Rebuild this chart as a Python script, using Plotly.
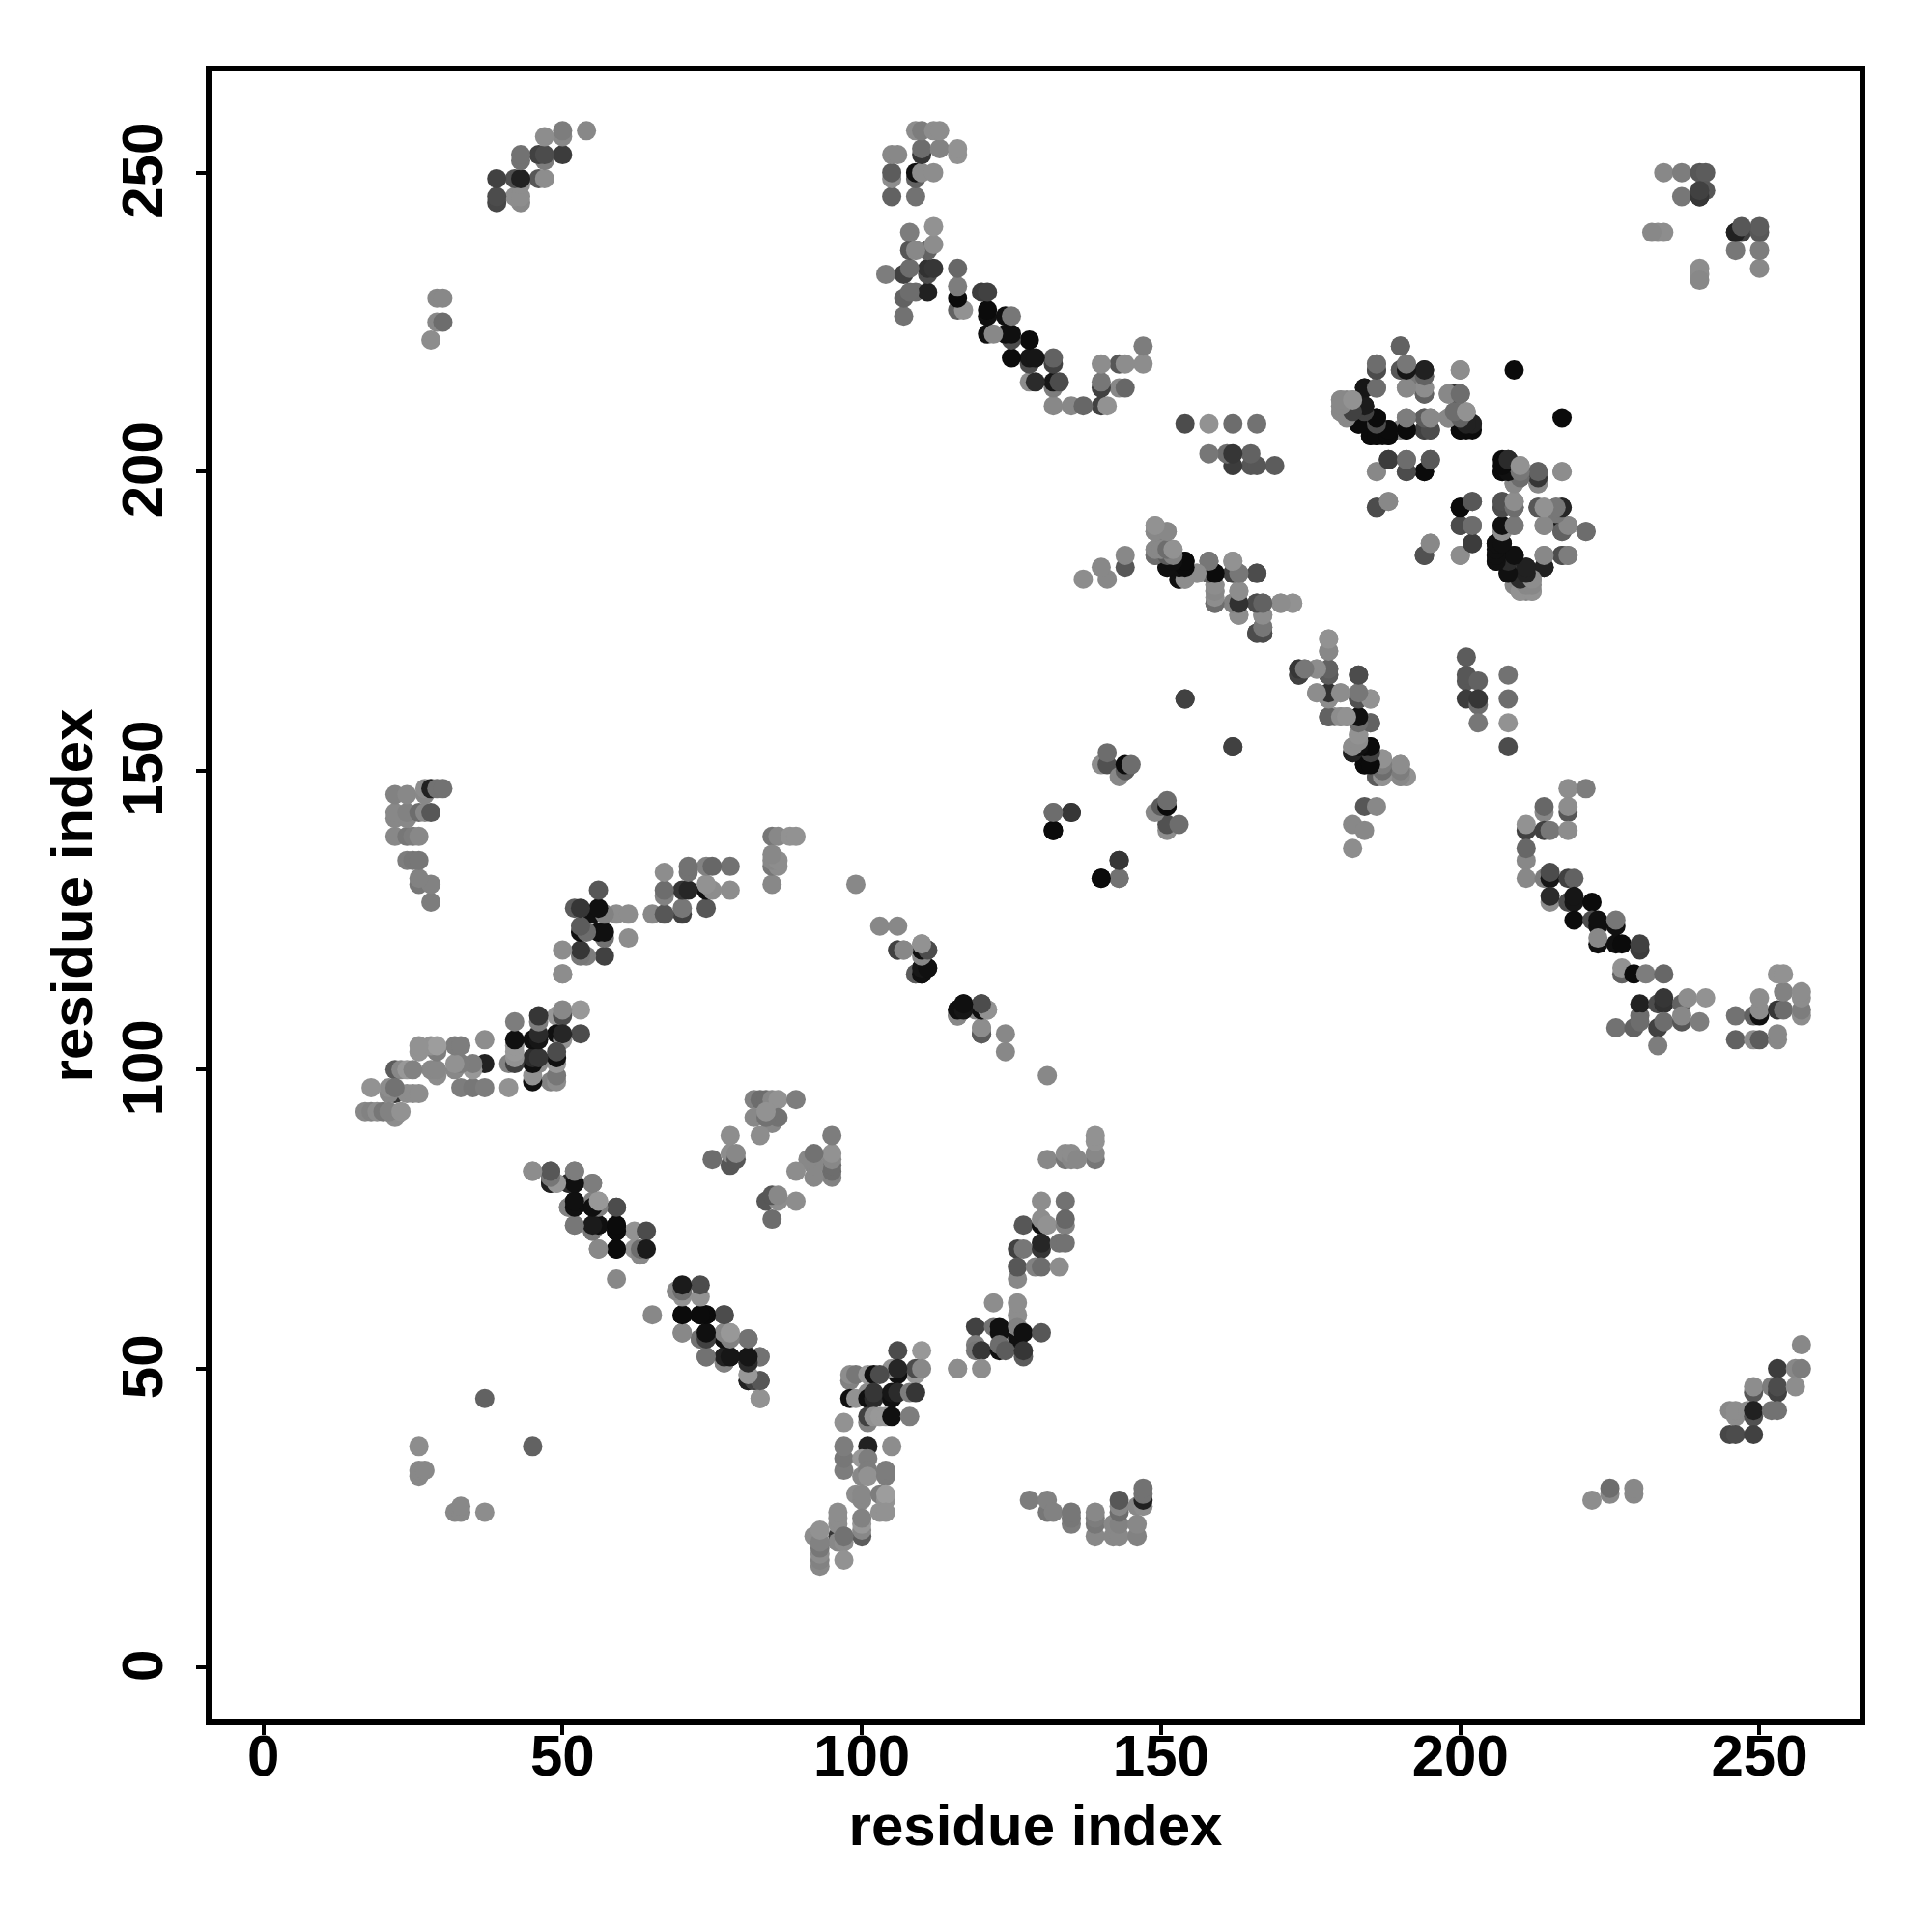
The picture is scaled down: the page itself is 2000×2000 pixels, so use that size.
import plotly.graph_objects as go

# Contacts as (residue i, residue j, grey level of the contact); the map is symmetric.
cluster_a = [(106,53,70),(110,53,140),(116,50,140),(109,49,140),(106,49,15),(109,50,70),(105,50,135),(106,50,35),(110,50,125),
(98,48,120),(98,49,130),(99,49,110),(101,49,140),(102,49,15),(103,49,70),(98,45,15),(99,45,135),(101,46,130),(101,45,15),(102,45,40),(102,46,50),
(105,45,15),(105,46,20),(106,46,40),(108,46,115),(109,46,50),(101,41,120),(101,42,60),(102,42,135),(103,42,140),(104,42,140),(105,42,15),(108,42,115),(97,41,135),
(97,33,115),(97,35,110),(97,37,115),(101,37,30),(105,37,130),(100,35,140),(101,35,115),(100,32,125),(101,33,115),(101,32,135),(104,32,115),(104,33,115),
(99,29,130),(100,28,125),(100,29,125),(103,29,115),(104,28,135),(104,29,145),(103,26,135),(104,26,135),(100,22,85),(100,23,125),(100,24,140),(100,25,120),
(96,22,50),(96,21,125),(96,24,130),(96,25,130),(96,26,130),(97,21,130),(97,22,105),(92,22,130),(93,17,125),(93,18,120),(93,19,130),(93,20,110),(93,21,120),(93,23,135),(97,18,135)]

cluster_b = [(45,83,135),(48,81,30),(48,82,60),(48,83,80),(52,83,105),(49,81,140),(51,81,40),(52,81,20),(55,81,105),(51,77,120),(52,77,30),(52,78,20),
(55,77,15),(55,78,120),(56,77,125),(56,78,140),(59,77,70),(52,74,105),(55,73,105),(55,74,60),(56,74,15),(59,74,10),(59,73,10),(62,73,135),(64,73,70),
(56,70,125),(59,70,10),(62,70,135),(63,69,125),(63,70,100),(64,70,25),(59,65,125),
(70,59,10),(70,56,125),(73,55,110),(74,56,15),(74,55,25),(73,59,10),(74,59,10),(77,59,70),(77,56,115),(77,55,15),(78,56,140),(81,55,115),
(74,52,110),(77,51,120),(77,52,15),(78,52,15),(81,51,40),(81,52,15),(83,52,115),(81,48,30),(81,49,140),(82,48,110),(83,48,80),(83,45,130)]

cluster_c = [(75,85,100),(78,84,80),(78,86,130),(78,89,130),(79,85,80),(79,86,125),(82,95,120),(83,95,100),(84,95,100),(85,95,125),(86,95,135),(89,95,115),
(82,92,125),(84,92,125),(85,91,125),(86,92,105),(83,89,130),(92,84,105),(93,84,135)]

cluster_d = [(139,85,110),(139,86,125),(139,88,135),(139,89,135),(131,85,125),(134,85,110),(134,86,130),(135,85,125),(135,86,130),(136,85,125),(130,78,130),(134,78,105),
(127,74,80),(130,74,15),(130,75,130),(131,74,135),(134,74,120),(134,75,95),(126,70,60),(127,70,110),(130,70,50),(130,71,35),(133,71,105),(134,71,105),
(126,65,125),(126,67,80),(129,67,120),(130,67,100),(133,67,130),(122,61,130),(126,59,130),(126,61,130),(119,57,60),(122,57,105),(123,56,15),(123,57,15),(126,55,15),(126,57,120),(127,56,15),(130,56,80),
(119,54,115),(119,53,110),(120,53,50),(123,53,15),(123,54,100),(124,53,85),(127,52,85),(127,53,50),(116,50,130),(120,50,130)]

cluster_e = [(128,28,115),(131,26,110),(131,28,120),(132,26,120),(135,24,115),(135,25,110),(135,26,110),(139,22,125),(139,24,110),(139,25,115),(139,26,125),
(142,22,125),(142,24,125),(143,22,125),(143,24,120),(143,26,100),(143,27,125),(143,28,80),(146,22,120),(146,24,125),(146,27,125),(147,27,130),(147,28,30),(147,29,105),(147,30,105)]

cluster_f = [(222,28,130),(225,29,125),(225,30,100),(229,29,125),(229,30,125),(257,54,125),(253,50,55),(256,50,125),(257,50,115),(249,46,80),(249,47,130),(252,47,115),(253,46,60),(253,47,70),(256,47,130),
(245,43,125),(246,42,130),(246,43,130),(248,43,130),(249,42,75),(249,43,30),(252,43,105),(253,43,105),(245,39,65),(246,39,70),(249,39,60),
(26,37,130),(26,32,125),(26,33,125),(27,33,125),(37,45,90)]

cluster_g = [(99,131,125),(103,124,125),(106,124,125),(106,120,85),(107,120,130),(110,120,15),(110,121,135),(111,120,70),(109,116,125),(110,116,15),(110,117,20),(111,117,15),
(116,109,85),(116,110,15),(117,110,20),(117,111,15),(119,110,125),(120,110,15),(120,111,70),(121,110,135),(120,106,60),(120,107,125)]

cluster_h = [(132,143,105),(135,143,50),(132,140,10),(143,135,50),(140,132,10),(143,132,100),(140,151,130),(141,151,75),(141,153,100),(143,149,125),(144,150,85),(144,151,10),(145,151,100),
(154,162,60),(162,154,60)]

cluster_i = [(149,191,135),(149,190,125),(150,190,115),(151,190,130),(149,186,85),(149,187,135),(150,187,100),(151,187,115),(152,187,135),(151,184,10),(151,185,10),(153,185,60),(154,184,10),(154,185,10),
(153,182,30),(154,183,15),(154,182,130),(155,183,130),(156,183,135),(158,185,90),(158,183,100),(159,183,15),(162,183,75),(162,185,135),(163,183,110),(166,183,70),
(159,178,90),(159,180,130),(159,181,135),(162,178,130),(163,178,45),(163,180,130),(163,176,130),(166,178,85),(167,178,90),(167,176,130),(166,173,60),(167,173,50),(167,174,110),(170,178,125),(172,178,135),
(178,172,135),(178,170,130),(173,167,70),(173,166,70),(174,167,110),(176,167,130),(178,166,70),(178,167,90),(183,166,70),(176,163,130),(178,162,120),(178,163,45),(180,163,130),(183,162,60),(183,163,110),(185,162,135),
(178,159,100),(179,159,130),(180,159,125),(181,159,130),(183,158,90),(183,159,10),(185,158,110),(183,156,130),(182,153,15),(182,154,130),(184,153,15),(184,154,10),(185,154,10),(184,151,15),(185,152,15),
(186,149,100),(186,151,85),(186,152,120),(187,149,125),(187,150,125),(187,151,100),(187,152,135),(190,149,125),(190,151,125),(191,149,135),
(184,144,80),(186,144,125),(182,141,125),(184,140,125),(182,137,130)]

cluster_j = [(190,221,100),(186,217,70),(186,218,115),(190,217,90),(191,218,125),(193,216,110),(194,217,35),(194,216,110),(200,217,130),(209,217,10),(184,214,30),(186,214,125),(191,214,125),(194,213,80),(194,214,135),(198,213,125),(199,213,50),(200,213,90),
(180,210,135),(180,212,135),(181,211,125),(181,212,125),(182,210,40),(182,212,130),(183,211,30),(184,211,30),(183,208,15),(185,208,40),(186,209,15),(185,206,15),(186,206,15),(187,206,15),(188,206,15),(188,207,15),
(190,207,130),(191,207,15),(191,209,110),(194,207,70),(195,207,75),(194,209,100),(195,209,130),(198,209,125),(199,210,100),(200,207,10),(200,208,15),(201,207,10),(202,208,40),(200,210,110),(201,210,135),
(186,200,130),(188,202,55),(191,200,70),(191,202,100),(194,200,10),(195,202,80),(186,194,75),(188,195,125),(194,186,70),(195,188,125),(200,186,125),(202,188,55),(200,194,10),(202,195,80),(200,191,70),(202,191,100),
(207,200,10),(207,202,10),(208,202,30),(208,201,30),(209,198,125),(209,200,90),(210,199,100),(210,201,135),(213,198,125),(213,200,100),(217,200,130),
(207,194,60),(207,195,70),(209,194,85),(209,195,125),(213,194,90),(214,194,130),(216,194,90),(217,194,30),(207,190,125),(207,191,10),(209,191,115),(214,191,125),(217,190,80),(217,191,20),(218,191,110),(221,190,90),
(206,185,10),(206,186,10),(206,188,10),(207,188,10),(208,183,10),(208,186,70),(209,186,10),(210,184,60),(211,184,25),(214,184,20),(214,186,100),(217,186,70),(218,186,100),(209,181,125),(210,180,125),(210,182,60),(211,180,125),(212,180,125),(212,182,135)]

cluster_k = [(201,169,85),(201,165,80),(201,166,80),(203,165,90),(208,166,105),(208,162,100),(201,162,55),(203,161,100),(203,162,50),(203,158,110),(208,158,135),(208,154,70)]

cluster_l = [(218,147,130),(221,147,115),(214,143,125),(214,144,95),(218,143,80),(218,144,130),(211,140,60),(211,141,135),(214,140,60),(215,140,110),(218,140,130),
(211,135,125),(211,137,95),(211,132,125),(214,132,115),(215,132,20),(215,133,70),(218,132,60),(219,132,90),(215,128,130),(215,129,40),(218,128,70),(219,128,20),(219,129,20),(222,128,10),
(219,125,10),(222,125,70),(223,124,15),(223,125,15),(226,124,15),(226,125,110),(223,121,15),(223,122,125),(226,121,15),(227,121,10),(230,120,55),(230,121,60),
(227,116,90),(227,117,135),(229,116,10),(231,116,115),(234,116,95),(230,109,100),(230,111,30),(233,111,70),(234,111,45),(234,112,50),(237,111,90),(238,112,130),(241,112,135),
(226,107,105),(229,107,90),(230,108,100),(233,107,60),(234,108,100),(237,108,80),(237,109,125),(240,108,115),(233,104,115),
(246,105,90),(246,109,105),(249,105,130),(250,105,85),(249,109,90),(250,109,15),(250,110,130),(250,112,130),(253,105,125),(253,106,125),(253,110,50),(254,110,100),(254,113,120),(253,116,135),(254,116,135),
(257,109,130),(257,110,115),(257,112,130),(257,113,130)]

cluster_m = [(234,250,125),(237,250,115),(240,250,80),(241,250,85),(237,246,110),(240,246,30),(241,247,80),(233,240,130),(234,240,130),(232,240,125),(246,240,50),(247,240,60)]

clusters = [cluster_a, cluster_b, cluster_c, cluster_d, cluster_e, cluster_f, cluster_g,
            cluster_h, cluster_i, cluster_j, cluster_k, cluster_l, cluster_m]
tick_values = [0, 50, 100, 150, 200, 250]
axis_label = "residue index"

res_i, res_j, grey = [], [], []
for cluster in clusters:
    for a, b, g in cluster:
        res_i.append(a); res_j.append(b); grey.append(g)
all_x = res_i + res_j
all_y = res_j + res_i
all_grey = grey + grey

font = dict(family="Liberation Sans", size=60, color="black", weight=700)
fig = go.Figure(go.Scatter(
    x=all_x, y=all_y, mode="markers", hoverinfo="skip",
    marker=dict(size=20, color=all_grey, cmin=0, cmax=235, showscale=False, line=dict(width=0),
                colorscale=[[0, "black"], [1, "white"]]),
))
axis = dict(tickmode="array", tickvals=tick_values, ticktext=[str(t) for t in tick_values], tickfont=font,
            showgrid=False, zeroline=False, showline=True, mirror=True, linecolor="black", linewidth=6,
            ticks="outside", ticklen=10, tickwidth=4, tickcolor="black")
fig.update_layout(
    width=2000, height=2000, autosize=False, showlegend=False,
    paper_bgcolor="white", plot_bgcolor="white",
    margin=dict(l=211, r=83, t=66, b=228),
    xaxis=dict(axis, range=[-8.65, 266.71], ticklabelstandoff=-30, title=dict(text=axis_label, font=font, standoff=20)),
    yaxis=dict(axis, range=[-8.66, 266.91], tickangle=-90, ticklabelstandoff=11, ticklabelshift=7,
               title=dict(text=axis_label, font=font, standoff=1)),
)
fig.write_html("out.html")
